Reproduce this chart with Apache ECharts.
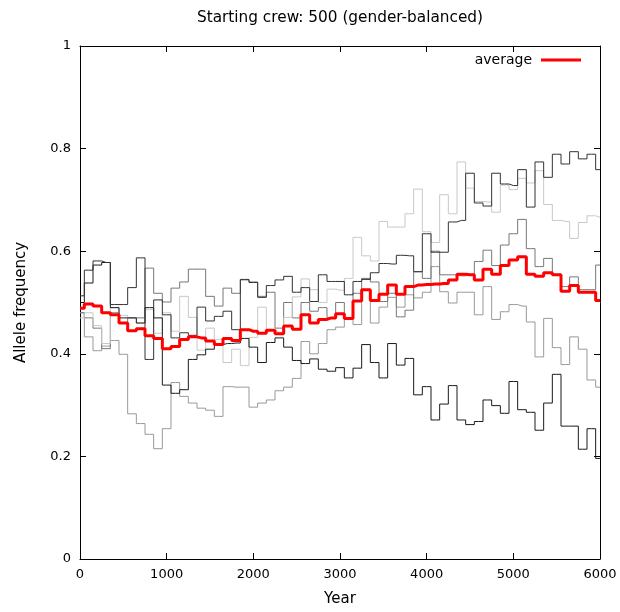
<!DOCTYPE html>
<html>
<head>
<meta charset="utf-8">
<script src="https://cdn.jsdelivr.net/npm/echarts/dist/echarts.min.js"></script>
<style>html,body{margin:0;padding:0;background:#fff}#c{width:620px;height:612px}</style>
</head>
<body>
<div id="c"></div>
<script>
// ---- data (one value per century, year 0 .. 6000) ----
const yearStart = 0, yearEnd = 6000, yearStep = 100;
const xTicks = [0, 1000, 2000, 3000, 4000, 5000, 6000];
const yTicks = [0, 0.2, 0.4, 0.6, 0.8, 1];

const runA = [
0.513,0.563,0.581,0.578,0.496,0.496,0.529,0.587,0.389,0.505,
0.476,0.431,0.441,0.436,0.491,0.464,0.473,0.483,0.447,0.545,
0.539,0.510,0.533,0.544,0.551,0.520,0.529,0.502,0.554,0.541,
0.541,0.515,0.541,0.545,0.558,0.576,0.575,0.592,0.591,0.560,
0.634,0.598,0.598,0.657,0.660,0.752,0.694,0.688,0.752,0.731,
0.728,0.759,0.686,0.774,0.744,0.789,0.770,0.794,0.780,0.789,
0.759];
const runB = [
0.500,0.538,0.573,0.578,0.490,0.470,0.470,0.460,0.490,0.470,
0.339,0.323,0.330,0.389,0.398,0.409,0.418,0.420,0.421,0.430,
0.413,0.383,0.422,0.431,0.413,0.387,0.381,0.390,0.370,0.366,
0.373,0.353,0.372,0.418,0.383,0.353,0.420,0.378,0.391,0.320,
0.336,0.271,0.302,0.338,0.271,0.262,0.268,0.310,0.299,0.284,
0.346,0.291,0.286,0.251,0.304,0.360,0.259,0.259,0.214,0.254,
0.196];
const runC = [
0.480,0.470,0.450,0.410,0.480,0.460,0.470,0.470,0.567,0.518,
0.501,0.528,0.540,0.565,0.565,0.512,0.493,0.528,0.518,0.544,
0.540,0.512,0.520,0.450,0.500,0.470,0.500,0.483,0.490,0.470,
0.500,0.470,0.518,0.547,0.540,0.502,0.518,0.472,0.485,0.560,
0.547,0.600,0.554,0.554,0.552,0.554,0.580,0.602,0.572,0.612,
0.634,0.662,0.605,0.570,0.586,0.555,0.531,0.550,0.525,0.525,
0.573];
const runD = [
0.480,0.433,0.406,0.415,0.426,0.399,0.283,0.264,0.243,0.215,
0.254,0.344,0.317,0.304,0.294,0.290,0.278,0.336,0.335,0.335,
0.296,0.304,0.310,0.328,0.335,0.352,0.424,0.400,0.420,0.447,
0.452,0.470,0.457,0.524,0.460,0.491,0.510,0.491,0.515,0.509,
0.520,0.570,0.521,0.499,0.520,0.520,0.476,0.531,0.467,0.482,
0.496,0.493,0.462,0.394,0.469,0.412,0.379,0.433,0.409,0.349,
0.335];
const runE = [
0.470,0.480,0.455,0.420,0.490,0.475,0.470,0.460,0.486,0.440,
0.480,0.444,0.512,0.471,0.407,0.450,0.428,0.383,0.409,0.377,
0.432,0.491,0.445,0.442,0.471,0.511,0.546,0.525,0.500,0.526,
0.524,0.547,0.627,0.591,0.581,0.658,0.647,0.647,0.673,0.721,
0.638,0.617,0.710,0.673,0.774,0.723,0.697,0.696,0.676,0.729,
0.720,0.742,0.733,0.757,0.691,0.660,0.658,0.625,0.656,0.669,
0.666];
const average = [
0.489,0.497,0.493,0.480,0.476,0.460,0.445,0.449,0.435,0.430,
0.410,0.414,0.428,0.433,0.431,0.425,0.418,0.430,0.426,0.447,
0.444,0.440,0.446,0.439,0.454,0.448,0.476,0.460,0.467,0.470,
0.478,0.469,0.503,0.525,0.504,0.516,0.534,0.516,0.531,0.534,
0.535,0.536,0.537,0.544,0.555,0.554,0.544,0.565,0.555,0.572,
0.583,0.589,0.555,0.551,0.558,0.554,0.522,0.533,0.520,0.520,
0.504];

const years = [];
for (let y = yearStart; y <= yearEnd; y += yearStep) years.push(y);

const runs = [
  {name: 'run1', values: runD, color: '#999999'},
  {name: 'run2', values: runC, color: '#777777'},
  {name: 'run3', values: runE, color: '#c8c8c8'},
  {name: 'run4', values: runB, color: '#1a1a1a'},
  {name: 'run5', values: runA, color: '#333333'}
];

const FONT = 'DejaVu Sans';
const pair = vals => years.map((y, i) => [y, vals[i]]);

const series = runs.map(r => ({
  name: r.name, type: 'line', step: 'middle', symbol: 'none',
  data: pair(r.values),
  lineStyle: {color: r.color, width: 1},
  itemStyle: {color: r.color},
  z: 2, silent: true
}));
series.push({
  name: 'average', type: 'line', step: 'middle', symbol: 'none',
  data: pair(average),
  lineStyle: {color: '#ff0000', width: 3},
  itemStyle: {color: '#ff0000'},
  z: 5
});

const axisLine = {show: true, onZero: false, lineStyle: {color: '#000', width: 1}};
const axisTick = {show: true, inside: true, length: 6, lineStyle: {color: '#000', width: 1}};

const chart = echarts.init(document.getElementById('c'), null, {renderer: 'canvas'});
chart.setOption({
  animation: false,
  backgroundColor: '#fff',
  graphic: [{
    type: 'text', x: 340, y: 18,
    style: {text: 'Starting crew: 500 (gender-balanced)', fontSize: 15.3, fontFamily: FONT,
            fill: '#000', align: 'center', verticalAlign: 'middle'}
  }],
  grid: {left: 80, right: 20, top: 46, bottom: 49, containLabel: false},
  legend: {
    data: [{name: 'average', icon: 'rect'}],
    right: 34, top: 48, align: 'right',
    itemWidth: 40, itemHeight: 3,
    textStyle: {fontSize: 14, fontFamily: FONT, color: '#000', padding: [0, 4, 0, 0]}
  },
  xAxis: [{
    type: 'value', min: xTicks[0], max: xTicks[xTicks.length - 1], interval: xTicks[1] - xTicks[0],
    position: 'bottom', axisLine, axisTick, splitLine: {show: false},
    axisLabel: {color: '#000', fontSize: 13, fontFamily: FONT, margin: 9, formatter: v => String(v)},
    name: 'Year', nameLocation: 'middle', nameGap: 33,
    nameTextStyle: {fontSize: 15, fontFamily: FONT, color: '#000'}
  }, {
    type: 'value', min: xTicks[0], max: xTicks[xTicks.length - 1], interval: xTicks[1] - xTicks[0],
    position: 'top', axisLine, axisTick, splitLine: {show: false}, axisLabel: {show: false}
  }],
  yAxis: [{
    type: 'value', min: yTicks[0], max: yTicks[yTicks.length - 1], interval: 0.2,
    position: 'left', axisLine, axisTick, splitLine: {show: false},
    axisLabel: {color: '#000', fontSize: 13, fontFamily: FONT, margin: 9,
      formatter: v => (Math.abs(v) < 1e-9 ? '0' : Math.abs(v - 1) < 1e-9 ? '1' : v.toFixed(1))},
    name: 'Allele frequency', nameLocation: 'middle', nameGap: 51,
    nameTextStyle: {fontSize: 15, fontFamily: FONT, color: '#000'}
  }, {
    type: 'value', min: yTicks[0], max: yTicks[yTicks.length - 1], interval: 0.2,
    position: 'right', axisLine, axisTick, splitLine: {show: false}, axisLabel: {show: false}
  }],
  series
});
</script>
</body>
</html>
